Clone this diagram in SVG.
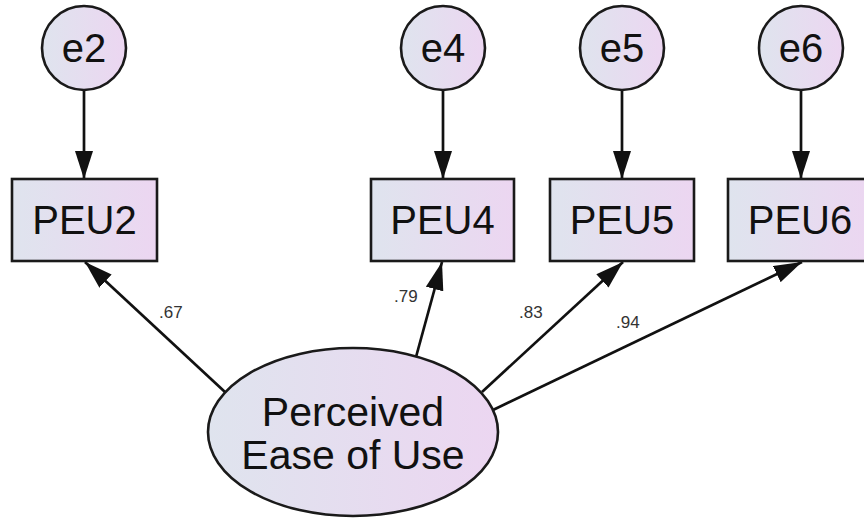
<svg xmlns="http://www.w3.org/2000/svg" width="864" height="518" viewBox="0 0 864 518">
  <defs>
    <linearGradient id="fill" x1="0" y1="0" x2="1" y2="0">
      <stop offset="0" stop-color="#dfe4ee"/>
      <stop offset="1" stop-color="#ecd6f1"/>
    </linearGradient>
    <marker id="arrow" markerUnits="userSpaceOnUse" markerWidth="28" markerHeight="18" refX="28" refY="9" orient="auto">
      <path d="M0,0 L28,9 L0,18 z" fill="#111"/>
    </marker>
  </defs>
  <style>
    .shape { fill: url(#fill); stroke: #1a1a1a; stroke-width: 2.6; }
    .lbl { font-family: "Liberation Sans", Arial, sans-serif; font-size: 40px; fill: #111; text-anchor: middle; }
    .big { font-size: 41px; }
    .coef { font-family: "Liberation Sans", Arial, sans-serif; font-size: 17px; fill: #333; }
    .conn { stroke: #111; stroke-width: 2.7; fill: none; marker-end: url(#arrow); }
  </style>
  <rect width="864" height="518" fill="#ffffff"/>
  <g id="connectors">
    <line class="conn" x1="84" y1="90" x2="84" y2="179"/>
    <line class="conn" x1="443" y1="90" x2="443" y2="179"/>
    <line class="conn" x1="622" y1="90" x2="622" y2="179"/>
    <line class="conn" x1="801" y1="90" x2="801" y2="179"/>
    <line class="conn" x1="225" y1="392" x2="85" y2="262"/>
    <line class="conn" x1="416" y1="357" x2="442" y2="262"/>
    <line class="conn" x1="482" y1="392" x2="623" y2="262"/>
    <line class="conn" x1="493" y1="410" x2="802" y2="262"/>
    <text class="coef" x="159" y="318">.67</text>
    <text class="coef" x="394" y="302">.79</text>
    <text class="coef" x="519" y="318">.83</text>
    <text class="coef" x="616" y="328">.94</text>
  </g>
  <g id="e2">
    <circle class="shape" cx="84" cy="48" r="42"/>
    <text class="lbl" x="84" y="62">e2</text>
  </g>
  <g id="e4">
    <circle class="shape" cx="443" cy="48" r="42"/>
    <text class="lbl" x="443" y="62">e4</text>
  </g>
  <g id="e5">
    <circle class="shape" cx="622" cy="48" r="42"/>
    <text class="lbl" x="622" y="62">e5</text>
  </g>
  <g id="e6">
    <circle class="shape" cx="801" cy="48" r="42"/>
    <text class="lbl" x="801" y="62">e6</text>
  </g>
  <g id="PEU2">
    <rect class="shape" x="12" y="179" width="145" height="82"/>
    <text class="lbl" x="84.5" y="234">PEU2</text>
  </g>
  <g id="PEU4">
    <rect class="shape" x="371" y="179" width="143" height="82"/>
    <text class="lbl" x="442.5" y="234">PEU4</text>
  </g>
  <g id="PEU5">
    <rect class="shape" x="550" y="179" width="144" height="82"/>
    <text class="lbl" x="622" y="234">PEU5</text>
  </g>
  <g id="PEU6">
    <rect class="shape" x="728" y="179" width="144" height="82"/>
    <text class="lbl" x="800" y="234">PEU6</text>
  </g>
  <g id="PEU">
    <ellipse class="shape" cx="353" cy="432" rx="145" ry="84"/>
    <text class="lbl big" x="353" y="426">Perceived</text>
    <text class="lbl big" x="353" y="469">Ease of Use</text>
  </g>
</svg>
